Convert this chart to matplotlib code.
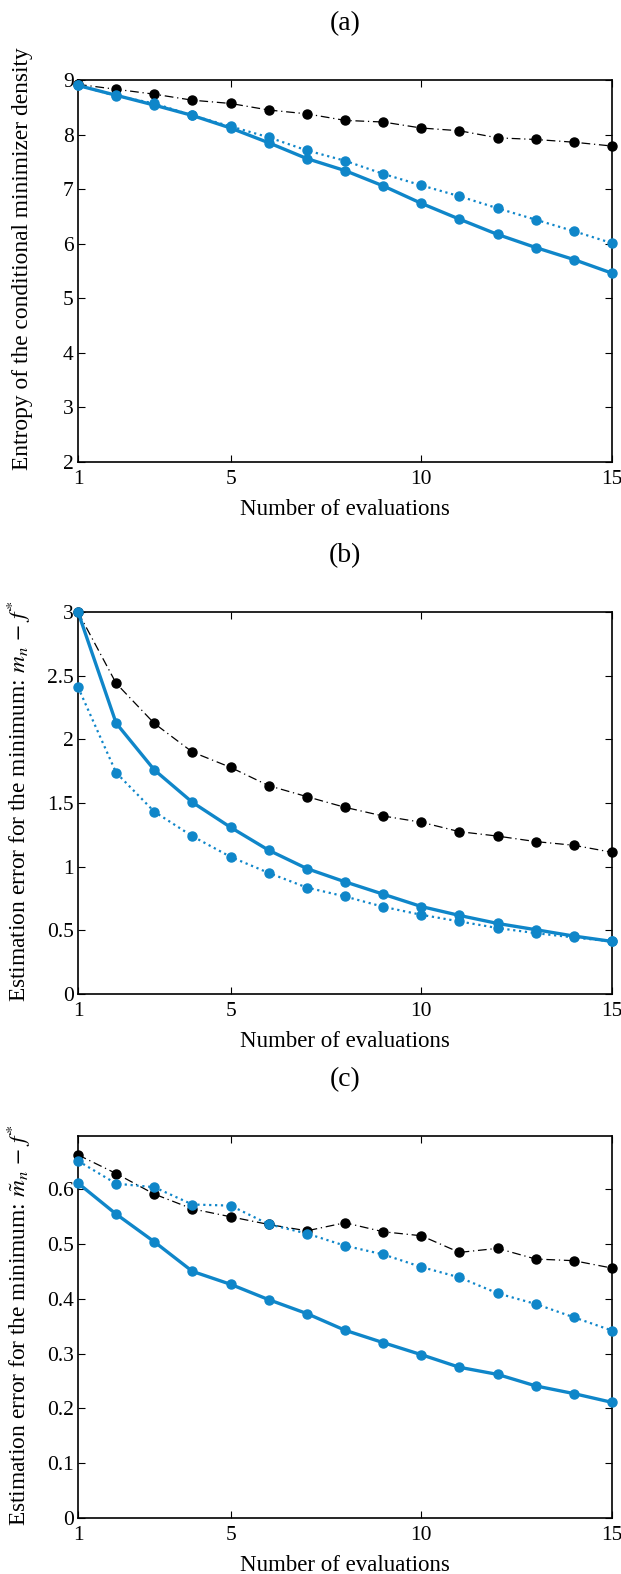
import numpy as np
import matplotlib.pyplot as plt

plt.rcParams['font.family'] = ['Liberation Serif', 'DejaVu Serif']
plt.rcParams['mathtext.fontset'] = 'stix'

evals = [1, 2, 3, 4, 5, 6, 7, 8, 9, 10, 11, 12, 13, 14, 15]

# (a) entropy of the conditional minimizer density
ent_black = [8.92, 8.83, 8.74, 8.63, 8.57, 8.45, 8.38, 8.26, 8.23, 8.12, 8.07, 7.94, 7.91, 7.86, 7.79]
ent_solid = [8.90, 8.72, 8.54, 8.35, 8.12, 7.85, 7.56, 7.34, 7.06, 6.74, 6.45, 6.17, 5.93, 5.71, 5.46]
ent_dotted = [8.90, 8.71, 8.57, 8.35, 8.15, 7.95, 7.71, 7.52, 7.28, 7.07, 6.87, 6.65, 6.44, 6.23, 6.01]

# (b) estimation error m_n - f*
err_black = [3.00, 2.44, 2.125, 1.90, 1.78, 1.636, 1.55, 1.466, 1.398, 1.349, 1.275, 1.24, 1.197, 1.168, 1.113]
err_solid = [3.00, 2.127, 1.76, 1.505, 1.309, 1.129, 0.985, 0.881, 0.784, 0.687, 0.617, 0.554, 0.505, 0.455, 0.413]
err_dotted = [2.41, 1.738, 1.432, 1.239, 1.077, 0.951, 0.836, 0.766, 0.685, 0.622, 0.57, 0.518, 0.478, 0.444, 0.413]

# (c) estimation error m~_n - f*
errt_black = [0.6625, 0.6285, 0.591, 0.564, 0.5496, 0.5356, 0.524, 0.5387, 0.5223, 0.515, 0.4846, 0.492, 0.4725, 0.4695, 0.456]
errt_solid = [0.611, 0.5545, 0.504, 0.450, 0.4264, 0.3984, 0.373, 0.3426, 0.320, 0.298, 0.275, 0.262, 0.241, 0.227, 0.211]
errt_dotted = [0.6516, 0.610, 0.6036, 0.572, 0.570, 0.536, 0.519, 0.4968, 0.481, 0.458, 0.439, 0.410, 0.3905, 0.3662, 0.342]

blue = '#0f86c9'
W, H = 621, 1574
fig = plt.figure(figsize=(W / 100, H / 100), dpi=100)

panels = [
    ('(a)', 80, ent_black, ent_solid, ent_dotted, (2, 9), [2, 3, 4, 5, 6, 7, 8, 9],
     ['2', '3', '4', '5', '6', '7', '8', '9'],
     'Entropy of the conditional minimizer density'),
    ('(b)', 612, err_black, err_solid, err_dotted, (0, 3), [0, 0.5, 1, 1.5, 2, 2.5, 3],
     ['0', '0.5', '1', '1.5', '2', '2.5', '3'],
     r'Estimation error for the minimum: $m_n\,-\,f^{*}$'),
    ('(c)', 1136, errt_black, errt_solid, errt_dotted, (0, 0.697), [0, 0.1, 0.2, 0.3, 0.4, 0.5, 0.6],
     ['0', '0.1', '0.2', '0.3', '0.4', '0.5', '0.6'],
     r'Estimation error for the minimum: $\tilde{m}_n\,-\,f^{*}$'),
]

left, right = 78, 612
ax_h = 382
for title, top, yb, ys, yd, ylim, yt, ytl, ylab in panels:
    ax = fig.add_axes([left / W, 1 - (top + ax_h) / H, (right - left) / W, ax_h / H])
    ax.plot(evals, yb, color='black', lw=0.9, ls=(0, (7, 3, 1, 3)), marker='o', ms=6.5,
            clip_on=False, zorder=3)
    ax.plot(evals, yd, color=blue, lw=1.6, ls=':', marker='o', ms=6.5, clip_on=False, zorder=4)
    ax.plot(evals, ys, color=blue, lw=2.4, ls='-', marker='o', ms=6.5, clip_on=False, zorder=5)
    ax.set_xlim(1, 15)
    ax.set_ylim(*ylim)
    ax.set_xticks([1, 5, 10, 15])
    ax.set_xticklabels(['1', '5', '10', '15'])
    ax.set_yticks(yt)
    ax.set_yticklabels(ytl)
    ax.tick_params(direction='in', top=True, right=True, length=5, width=0.8,
                   labelsize=15.5)
    ax.tick_params(axis='x', pad=6)
    ax.tick_params(axis='y', pad=3)
    for s in ax.spines.values():
        s.set_linewidth(1.2)
    ax.set_xlabel('Number of evaluations', fontsize=16.5, labelpad=7)
    ax.set_ylabel(ylab, fontsize=16.8, loc='bottom')
    ax.yaxis.set_label_coords((33 - left) / (right - left), -8 / ax_h)
    fig.text((left + right) / 2 / W, 1 - (top - 56) / H, title, ha='center', va='center', fontsize=20)

fig.savefig('out.png', dpi=100)
